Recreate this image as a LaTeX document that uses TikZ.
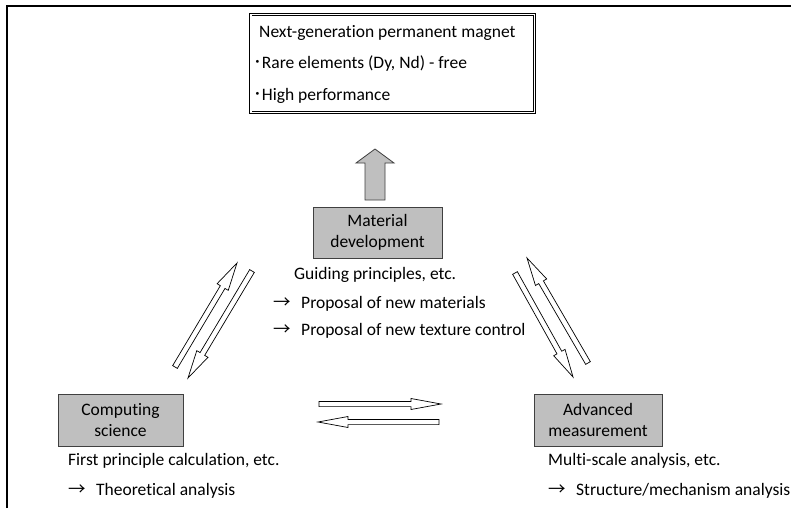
\documentclass[tikz,border=0pt]{standalone}
\usepackage{fontspec}
\setmainfont{Carlito}[Ligatures=NoCommon]
\newfontfamily\cjk{Noto Sans CJK JP}
\usetikzlibrary{calc}

% outlined block arrow from #1 (tail) to #2 (tip):
% #3 shaft half width, #4 head half width, #5 head length, #6 style
\newcommand\blockarrow[6]{%
  \coordinate (ba-base) at ($(#2)!#5!(#1)$);
  \draw[#6] ($(#1)!#3!90:(#2)$) -- ($(ba-base)!#3!90:(#2)$)
    -- ($(ba-base)!#4!90:(#2)$) -- (#2)
    -- ($(ba-base)!#4!-90:(#2)$) -- ($(ba-base)!#3!-90:(#2)$)
    -- ($(#1)!#3!-90:(#2)$) -- cycle;}
\newcommand\arrowitem[1]{\makebox[28pt][l]{\cjk →}#1}

\begin{document}
\begin{tikzpicture}[x=1pt, y=-1pt,
  font=\fontsize{17.5}{21}\selectfont,
  graybox/.style={draw=black!75, fill=black!25, line width=0.8pt,
    align=center, inner sep=0pt},
  goalbox/.style={draw=black, double=white, double distance=1.6pt,
    line width=0.9pt, inner sep=0pt},
  lbl/.style={anchor=base west, inner sep=0pt},
  openarr/.style={draw=black, line width=0.7pt, fill=white, line join=miter},
  bigarr/.style={draw=black!75, fill=black!25, line width=0.8pt, line join=miter}]
\useasboundingbox (0,0) rectangle (791,508);
\fill[white] (0,0) rectangle (791,508);

% frame
\draw[line width=2pt] (7,508) -- (7,6) -- (791,6);

% goal box
\node[goalbox, minimum width=283.6pt, minimum height=97.6pt] (goal) at (392.5,63.5) {};
\node[lbl] (g1) at (259,38) {Next-generation permanent magnet};
\node[lbl] (g2) at (253,69) {{\cjk ･}Rare elements (Dy, Nd) - free};
\node[lbl] (g3) at (253,101) {{\cjk ･}High performance};

% three research areas
\node[graybox, minimum width=129pt, minimum height=51pt] (mat) at (377.5,232.5)
  {Material\\development};
\node[graybox, minimum width=125pt, minimum height=52pt] (comp) at (120.5,420)
  {Computing\\science};
\node[graybox, minimum width=128pt, minimum height=52pt] (meas) at (598,420)
  {Advanced\\measurement};

% descriptions
\node[lbl] (m1) at (294,279) {Guiding principles, etc.};
\node[lbl] (m2) at (273,308) {\arrowitem{Proposal of new materials}};
\node[lbl] (m3) at (273,335) {\arrowitem{Proposal of new texture control}};
\node[lbl] (c1) at (68,465) {First principle calculation, etc.};
\node[lbl] (c2) at (68,495) {\arrowitem{Theoretical analysis}};
\node[lbl] (a1) at (548,465) {Multi-scale analysis, etc.};
\node[lbl] (a2) at (548,495) {\arrowitem{Structure/mechanism analysis}};

% arrow end points
\coordinate (up-t) at (375,200);
\coordinate (up-h) at (375,149);
\coordinate (cm-t) at (175,367);
\coordinate (cm-h) at (237,263);
\coordinate (mc-t) at (252,271);
\coordinate (mc-h) at (188,378);
\coordinate (mm-t) at (515,273);
\coordinate (mm-h) at (573,377);
\coordinate (am-t) at (588,363);
\coordinate (am-h) at (527,258);
\coordinate (ca-t) at (319,404);
\coordinate (ca-h) at (441,404);
\coordinate (ac-t) at (439,422);
\coordinate (ac-h) at (318,422);

% arrows
\blockarrow{up-t}{up-h}{10pt}{19pt}{14pt}{bigarr}
\blockarrow{cm-t}{cm-h}{2.7pt}{6.5pt}{28pt}{openarr}
\blockarrow{mc-t}{mc-h}{2.7pt}{6.5pt}{28pt}{openarr}
\blockarrow{mm-t}{mm-h}{2.7pt}{6.5pt}{28pt}{openarr}
\blockarrow{am-t}{am-h}{2.7pt}{6.5pt}{28pt}{openarr}
\blockarrow{ca-t}{ca-h}{2.6pt}{5.5pt}{30pt}{openarr}
\blockarrow{ac-t}{ac-h}{2.6pt}{5.5pt}{30pt}{openarr}
\end{tikzpicture}
\end{document}
